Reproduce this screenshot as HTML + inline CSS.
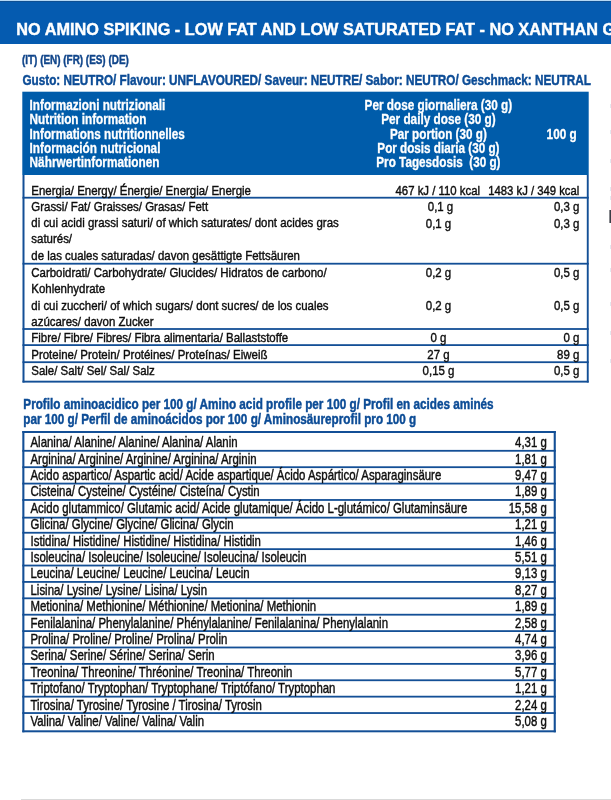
<!DOCTYPE html>
<html><head><meta charset="utf-8"><title>Nutrition</title>
<style>
html,body{margin:0;padding:0;background:#fff;}
body{width:611px;height:800px;position:relative;overflow:hidden;font-family:"Liberation Sans",sans-serif;}
#w{position:absolute;left:0;top:0;width:611px;height:800px;overflow:hidden;filter:blur(0.35px);}
.t{position:absolute;left:0;top:0;white-space:pre;line-height:normal;-webkit-text-stroke:0.25px currentColor;}
.r{position:absolute;}
</style></head><body><div id="w">
<svg width="611" height="800" viewBox="0 0 611 800" style="position:absolute;left:0;top:0">
<rect x="0" y="0" width="611" height="1" fill="#b5d8f5"/>
<rect x="0" y="1" width="611" height="43" fill="#055bb0"/>
<rect x="0" y="1" width="611" height="1" fill="#0e4f92"/>
<rect x="22.3" y="91.7" width="566.4" height="83.3" fill="#005caa"/>
<rect x="22.5" y="175" width="2" height="207.5" fill="#134f96"/>
<rect x="586.8" y="175" width="1.9" height="207.5" fill="#134f96"/>
<rect x="22.5" y="380.7" width="566.2" height="1.9" fill="#134f96"/>
<rect x="22.5" y="196.8" width="566.2" height="1.8" fill="#134f96"/>
<rect x="22.5" y="262.8" width="566.2" height="1.8" fill="#134f96"/>
<rect x="22.5" y="328.1" width="566.2" height="1.8" fill="#134f96"/>
<rect x="22.5" y="344.2" width="566.2" height="1.8" fill="#134f96"/>
<rect x="22.5" y="361.3" width="566.2" height="1.8" fill="#134f96"/>
<rect x="22.3" y="431" width="533.5" height="2" fill="#134f96"/>
<rect x="22.3" y="730.3" width="533.5" height="2" fill="#134f96"/>
<rect x="22.3" y="431" width="2.1" height="301.3" fill="#134f96"/>
<rect x="553.7" y="431" width="2.1" height="301.3" fill="#134f96"/>
<rect x="22.3" y="449.9" width="533.5" height="1.8" fill="#134f96"/>
<rect x="22.3" y="466.29" width="533.5" height="1.8" fill="#134f96"/>
<rect x="22.3" y="482.68" width="533.5" height="1.8" fill="#134f96"/>
<rect x="22.3" y="499.07" width="533.5" height="1.8" fill="#134f96"/>
<rect x="22.3" y="516.76" width="533.5" height="1.8" fill="#134f96"/>
<rect x="22.3" y="531.85" width="533.5" height="1.8" fill="#134f96"/>
<rect x="22.3" y="548.24" width="533.5" height="1.8" fill="#134f96"/>
<rect x="22.3" y="564.63" width="533.5" height="1.8" fill="#134f96"/>
<rect x="22.3" y="581.02" width="533.5" height="1.8" fill="#134f96"/>
<rect x="22.3" y="597.41" width="533.5" height="1.8" fill="#134f96"/>
<rect x="22.3" y="613.8" width="533.5" height="1.8" fill="#134f96"/>
<rect x="22.3" y="630.19" width="533.5" height="1.8" fill="#134f96"/>
<rect x="22.3" y="646.58" width="533.5" height="1.8" fill="#134f96"/>
<rect x="22.3" y="662.97" width="533.5" height="1.8" fill="#134f96"/>
<rect x="22.3" y="679.36" width="533.5" height="1.8" fill="#134f96"/>
<rect x="22.3" y="695.75" width="533.5" height="1.8" fill="#134f96"/>
<rect x="22.3" y="712.14" width="533.5" height="1.8" fill="#134f96"/>
<rect x="21" y="799" width="590" height="1" fill="#d9d9d9"/>
<rect x="610" y="104" width="1" height="4" fill="#e4e8ef"/>
<rect x="610" y="130" width="1" height="4" fill="#e4e8ef"/>
<rect x="610" y="159" width="1" height="4" fill="#e4e8ef"/>
<rect x="610" y="187" width="1" height="4" fill="#e4e8ef"/>
<rect x="610" y="196" width="1" height="4" fill="#e4e8ef"/>
<rect x="610" y="245" width="1" height="4" fill="#e4e8ef"/>
<rect x="610" y="268" width="1" height="4" fill="#e4e8ef"/>
<rect x="610" y="302" width="1" height="4" fill="#e4e8ef"/>
<rect x="610" y="331" width="1" height="4" fill="#e4e8ef"/>
<rect x="610" y="359" width="1" height="4" fill="#e4e8ef"/>
<rect x="609.4" y="210" width="1.6" height="13" fill="#3a3e46"/>
</svg>
<div class="t" style="font-size:16.6px;color:#ffffff;transform:translate(16.30px,19.73px) scaleX(0.9808);transform-origin:0 0;font-weight:700;-webkit-text-stroke-width:0.4px;">NO AMINO SPIKING - LOW FAT AND LOW SATURATED FAT - NO XANTHAN GUM</div>
<div class="t" style="font-size:13.0px;color:#10458a;transform:translate(22.00px,52.05px) scaleX(0.7624);transform-origin:0 0;font-weight:700;-webkit-text-stroke-width:0.45px;">(IT) (EN) (FR) (ES) (DE)</div>
<div class="t" style="font-size:14.3px;color:#0c4c96;transform:translate(22.50px,71.85px) scaleX(0.8200);transform-origin:0 0;font-weight:700;-webkit-text-stroke-width:0.45px;">Gusto: NEUTRO/ Flavour: UNFLAVOURED/ Saveur: NEUTRE/ Sabor: NEUTRO/ Geschmack: NEUTRAL</div>
<div class="t" style="font-size:14.0px;color:#fff;transform:translate(29.60px,97.13px) scaleX(0.8388);transform-origin:0 0;font-weight:700;-webkit-text-stroke-width:0.3px;">Informazioni nutrizionali</div>
<div class="t" style="font-size:14.0px;color:#fff;transform:translate(29.60px,111.13px) scaleX(0.8384);transform-origin:0 0;font-weight:700;-webkit-text-stroke-width:0.3px;">Nutrition information</div>
<div class="t" style="font-size:14.0px;color:#fff;transform:translate(29.60px,126.13px) scaleX(0.8389);transform-origin:0 0;font-weight:700;-webkit-text-stroke-width:0.3px;">Informations nutritionnelles</div>
<div class="t" style="font-size:14.0px;color:#fff;transform:translate(29.60px,140.13px) scaleX(0.8408);transform-origin:0 0;font-weight:700;-webkit-text-stroke-width:0.3px;">Información nutricional</div>
<div class="t" style="font-size:14.0px;color:#fff;transform:translate(29.60px,154.13px) scaleX(0.8428);transform-origin:0 0;font-weight:700;-webkit-text-stroke-width:0.3px;">Nährwertinformationen</div>
<div class="t" style="font-size:14.0px;color:#fff;transform:translate(350.48px,97.13px) scaleX(0.8394);transform-origin:50% 0;font-weight:700;-webkit-text-stroke-width:0.3px;">Per dose giornaliera (30 g)</div>
<div class="t" style="font-size:14.0px;color:#fff;transform:translate(370.32px,111.13px) scaleX(0.8409);transform-origin:50% 0;font-weight:700;-webkit-text-stroke-width:0.3px;">Per daily dose (30 g)</div>
<div class="t" style="font-size:14.0px;color:#fff;transform:translate(380.45px,126.13px) scaleX(0.8352);transform-origin:50% 0;font-weight:700;-webkit-text-stroke-width:0.3px;">Par portion (30 g)</div>
<div class="t" style="font-size:14.0px;color:#fff;transform:translate(365.27px,140.13px) scaleX(0.8348);transform-origin:50% 0;font-weight:700;-webkit-text-stroke-width:0.3px;">Por dosis diaria (30 g)</div>
<div class="t" style="font-size:14.0px;color:#fff;transform:translate(364.23px,154.13px) scaleX(0.8373);transform-origin:50% 0;font-weight:700;-webkit-text-stroke-width:0.3px;">Pro Tagesdosis&nbsp; (30 g)</div>
<div class="t" style="font-size:14.0px;color:#fff;transform:translate(540.80px,126.13px) scaleX(0.8380);transform-origin:100% 0;font-weight:700;-webkit-text-stroke-width:0.3px;">100 g</div>
<div class="t" style="font-size:13.5px;color:#0e0e0e;transform:translate(31.30px,182.59px) scaleX(0.8483);transform-origin:0 0;-webkit-text-stroke-width:0.42px;">Energia/ Energy/ Énergie/ Energia/ Energie</div>
<div class="t" style="font-size:13.5px;color:#0e0e0e;transform:translate(31.30px,198.59px) scaleX(0.8483);transform-origin:0 0;-webkit-text-stroke-width:0.42px;">Grassi/ Fat/ Graisses/ Grasas/ Fett</div>
<div class="t" style="font-size:13.5px;color:#0e0e0e;transform:translate(31.30px,214.59px) scaleX(0.8483);transform-origin:0 0;-webkit-text-stroke-width:0.42px;">di cui acidi grassi saturi/ of which saturates/ dont acides gras</div>
<div class="t" style="font-size:13.5px;color:#0e0e0e;transform:translate(31.30px,230.59px) scaleX(0.8483);transform-origin:0 0;-webkit-text-stroke-width:0.42px;">saturés/</div>
<div class="t" style="font-size:13.5px;color:#0e0e0e;transform:translate(31.30px,247.59px) scaleX(0.8483);transform-origin:0 0;-webkit-text-stroke-width:0.42px;">de las cuales saturadas/ davon gesättigte Fettsäuren</div>
<div class="t" style="font-size:13.5px;color:#0e0e0e;transform:translate(31.30px,264.59px) scaleX(0.8483);transform-origin:0 0;-webkit-text-stroke-width:0.42px;">Carboidrati/ Carbohydrate/ Glucides/ Hidratos de carbono/</div>
<div class="t" style="font-size:13.5px;color:#0e0e0e;transform:translate(31.30px,280.59px) scaleX(0.8483);transform-origin:0 0;-webkit-text-stroke-width:0.42px;">Kohlenhydrate</div>
<div class="t" style="font-size:13.5px;color:#0e0e0e;transform:translate(31.30px,297.59px) scaleX(0.8483);transform-origin:0 0;-webkit-text-stroke-width:0.42px;">di cui zuccheri/ of which sugars/ dont sucres/ de los cuales</div>
<div class="t" style="font-size:13.5px;color:#0e0e0e;transform:translate(31.30px,313.59px) scaleX(0.8483);transform-origin:0 0;-webkit-text-stroke-width:0.42px;">azúcares/ davon Zucker</div>
<div class="t" style="font-size:13.5px;color:#0e0e0e;transform:translate(31.30px,329.59px) scaleX(0.8483);transform-origin:0 0;-webkit-text-stroke-width:0.42px;">Fibre/ Fibre/ Fibres/ Fibra alimentaria/ Ballaststoffe</div>
<div class="t" style="font-size:13.5px;color:#0e0e0e;transform:translate(31.30px,346.59px) scaleX(0.8483);transform-origin:0 0;-webkit-text-stroke-width:0.42px;">Proteine/ Protein/ Protéines/ Proteínas/ Eiweiß</div>
<div class="t" style="font-size:13.5px;color:#0e0e0e;transform:translate(31.30px,362.59px) scaleX(0.8483);transform-origin:0 0;-webkit-text-stroke-width:0.42px;">Sale/ Salt/ Sel/ Sal/ Salz</div>
<div class="t" style="font-size:13.5px;color:#0e0e0e;transform:translate(379.79px,182.59px) scaleX(0.8434);transform-origin:100% 0;-webkit-text-stroke-width:0.42px;">467 kJ / 110 kcal</div>
<div class="t" style="font-size:13.5px;color:#0e0e0e;transform:translate(470.48px,182.59px) scaleX(0.8372);transform-origin:100% 0;-webkit-text-stroke-width:0.42px;">1483 kJ / 349 kcal</div>
<div class="t" style="font-size:13.5px;color:#0e0e0e;transform:translate(425.49px,198.59px) scaleX(0.8483);transform-origin:50% 0;-webkit-text-stroke-width:0.42px;">0,1 g</div>
<div class="t" style="font-size:13.5px;color:#0e0e0e;transform:translate(549.37px,198.59px) scaleX(0.8483);transform-origin:100% 0;-webkit-text-stroke-width:0.42px;">0,3 g</div>
<div class="t" style="font-size:13.5px;color:#0e0e0e;transform:translate(423.49px,215.59px) scaleX(0.8483);transform-origin:50% 0;-webkit-text-stroke-width:0.42px;">0,1 g</div>
<div class="t" style="font-size:13.5px;color:#0e0e0e;transform:translate(549.37px,215.59px) scaleX(0.8483);transform-origin:100% 0;-webkit-text-stroke-width:0.42px;">0,3 g</div>
<div class="t" style="font-size:13.5px;color:#0e0e0e;transform:translate(423.49px,264.59px) scaleX(0.8483);transform-origin:50% 0;-webkit-text-stroke-width:0.42px;">0,2 g</div>
<div class="t" style="font-size:13.5px;color:#0e0e0e;transform:translate(549.37px,264.59px) scaleX(0.8483);transform-origin:100% 0;-webkit-text-stroke-width:0.42px;">0,5 g</div>
<div class="t" style="font-size:13.5px;color:#0e0e0e;transform:translate(423.49px,297.59px) scaleX(0.8483);transform-origin:50% 0;-webkit-text-stroke-width:0.42px;">0,2 g</div>
<div class="t" style="font-size:13.5px;color:#0e0e0e;transform:translate(549.37px,297.59px) scaleX(0.8483);transform-origin:100% 0;-webkit-text-stroke-width:0.42px;">0,5 g</div>
<div class="t" style="font-size:13.5px;color:#0e0e0e;transform:translate(429.12px,329.59px) scaleX(0.8483);transform-origin:50% 0;-webkit-text-stroke-width:0.42px;">0 g</div>
<div class="t" style="font-size:13.5px;color:#0e0e0e;transform:translate(560.63px,329.59px) scaleX(0.8483);transform-origin:100% 0;-webkit-text-stroke-width:0.42px;">0 g</div>
<div class="t" style="font-size:13.5px;color:#0e0e0e;transform:translate(425.36px,346.59px) scaleX(0.8483);transform-origin:50% 0;-webkit-text-stroke-width:0.42px;">27 g</div>
<div class="t" style="font-size:13.5px;color:#0e0e0e;transform:translate(553.13px,346.59px) scaleX(0.8483);transform-origin:100% 0;-webkit-text-stroke-width:0.42px;">89 g</div>
<div class="t" style="font-size:13.5px;color:#0e0e0e;transform:translate(419.73px,362.59px) scaleX(0.8483);transform-origin:50% 0;-webkit-text-stroke-width:0.42px;">0,15 g</div>
<div class="t" style="font-size:13.5px;color:#0e0e0e;transform:translate(549.37px,362.59px) scaleX(0.8483);transform-origin:100% 0;-webkit-text-stroke-width:0.42px;">0,5 g</div>
<div class="t" style="font-size:14.3px;color:#0c4c96;transform:translate(23.30px,395.85px) scaleX(0.8207);transform-origin:0 0;font-weight:700;-webkit-text-stroke-width:0.45px;">Profilo aminoacidico per 100 g/ Amino acid profile per 100 g/ Profil en acides aminés</div>
<div class="t" style="font-size:14.3px;color:#0c4c96;transform:translate(23.30px,410.85px) scaleX(0.8198);transform-origin:0 0;font-weight:700;-webkit-text-stroke-width:0.45px;">par 100 g/ Perfil de aminoácidos por 100 g/ Aminosäureprofil pro 100 g</div>
<div class="t" style="font-size:14.1px;color:#0e0e0e;transform:translate(30.50px,434.03px) scaleX(0.8104);transform-origin:0 0;-webkit-text-stroke-width:0.42px;">Alanina/ Alanine/ Alanine/ Alanina/ Alanin</div>
<div class="t" style="font-size:14.1px;color:#0e0e0e;transform:translate(507.62px,434.03px) scaleX(0.8104);transform-origin:100% 0;-webkit-text-stroke-width:0.42px;">4,31 g</div>
<div class="t" style="font-size:14.1px;color:#0e0e0e;transform:translate(30.50px,451.03px) scaleX(0.8104);transform-origin:0 0;-webkit-text-stroke-width:0.42px;">Arginina/ Arginine/ Arginine/ Arginina/ Arginin</div>
<div class="t" style="font-size:14.1px;color:#0e0e0e;transform:translate(507.62px,451.03px) scaleX(0.8104);transform-origin:100% 0;-webkit-text-stroke-width:0.42px;">1,81 g</div>
<div class="t" style="font-size:14.1px;color:#0e0e0e;transform:translate(30.50px,467.03px) scaleX(0.8104);transform-origin:0 0;-webkit-text-stroke-width:0.42px;">Acido aspartico/ Aspartic acid/ Acide aspartique/ Ácido Aspártico/ Asparaginsäure</div>
<div class="t" style="font-size:14.1px;color:#0e0e0e;transform:translate(507.62px,467.03px) scaleX(0.8104);transform-origin:100% 0;-webkit-text-stroke-width:0.42px;">9,47 g</div>
<div class="t" style="font-size:14.1px;color:#0e0e0e;transform:translate(30.50px,483.03px) scaleX(0.8104);transform-origin:0 0;-webkit-text-stroke-width:0.42px;">Cisteina/ Cysteine/ Cystéine/ Cisteína/ Cystin</div>
<div class="t" style="font-size:14.1px;color:#0e0e0e;transform:translate(507.62px,483.03px) scaleX(0.8104);transform-origin:100% 0;-webkit-text-stroke-width:0.42px;">1,89 g</div>
<div class="t" style="font-size:14.1px;color:#0e0e0e;transform:translate(30.50px,500.03px) scaleX(0.8104);transform-origin:0 0;-webkit-text-stroke-width:0.42px;">Acido glutammico/ Glutamic acid/ Acide glutamique/ Ácido L-glutámico/ Glutaminsäure</div>
<div class="t" style="font-size:14.1px;color:#0e0e0e;transform:translate(499.78px,500.03px) scaleX(0.8104);transform-origin:100% 0;-webkit-text-stroke-width:0.42px;">15,58 g</div>
<div class="t" style="font-size:14.1px;color:#0e0e0e;transform:translate(30.50px,516.03px) scaleX(0.8104);transform-origin:0 0;-webkit-text-stroke-width:0.42px;">Glicina/ Glycine/ Glycine/ Glicina/ Glycin</div>
<div class="t" style="font-size:14.1px;color:#0e0e0e;transform:translate(507.62px,516.03px) scaleX(0.8104);transform-origin:100% 0;-webkit-text-stroke-width:0.42px;">1,21 g</div>
<div class="t" style="font-size:14.1px;color:#0e0e0e;transform:translate(30.50px,533.03px) scaleX(0.8104);transform-origin:0 0;-webkit-text-stroke-width:0.42px;">Istidina/ Histidine/ Histidine/ Histidina/ Histidin</div>
<div class="t" style="font-size:14.1px;color:#0e0e0e;transform:translate(507.62px,533.03px) scaleX(0.8104);transform-origin:100% 0;-webkit-text-stroke-width:0.42px;">1,46 g</div>
<div class="t" style="font-size:14.1px;color:#0e0e0e;transform:translate(30.50px,549.03px) scaleX(0.8104);transform-origin:0 0;-webkit-text-stroke-width:0.42px;">Isoleucina/ Isoleucine/ Isoleucine/ Isoleucina/ Isoleucin</div>
<div class="t" style="font-size:14.1px;color:#0e0e0e;transform:translate(507.62px,549.03px) scaleX(0.8104);transform-origin:100% 0;-webkit-text-stroke-width:0.42px;">5,51 g</div>
<div class="t" style="font-size:14.1px;color:#0e0e0e;transform:translate(30.50px,565.03px) scaleX(0.8104);transform-origin:0 0;-webkit-text-stroke-width:0.42px;">Leucina/ Leucine/ Leucine/ Leucina/ Leucin</div>
<div class="t" style="font-size:14.1px;color:#0e0e0e;transform:translate(507.62px,565.03px) scaleX(0.8104);transform-origin:100% 0;-webkit-text-stroke-width:0.42px;">9,13 g</div>
<div class="t" style="font-size:14.1px;color:#0e0e0e;transform:translate(30.50px,582.03px) scaleX(0.8104);transform-origin:0 0;-webkit-text-stroke-width:0.42px;">Lisina/ Lysine/ Lysine/ Lisina/ Lysin</div>
<div class="t" style="font-size:14.1px;color:#0e0e0e;transform:translate(507.62px,582.03px) scaleX(0.8104);transform-origin:100% 0;-webkit-text-stroke-width:0.42px;">8,27 g</div>
<div class="t" style="font-size:14.1px;color:#0e0e0e;transform:translate(30.50px,598.03px) scaleX(0.8104);transform-origin:0 0;-webkit-text-stroke-width:0.42px;">Metionina/ Methionine/ Méthionine/ Metionina/ Methionin</div>
<div class="t" style="font-size:14.1px;color:#0e0e0e;transform:translate(507.62px,598.03px) scaleX(0.8104);transform-origin:100% 0;-webkit-text-stroke-width:0.42px;">1,89 g</div>
<div class="t" style="font-size:14.1px;color:#0e0e0e;transform:translate(30.50px,615.03px) scaleX(0.8104);transform-origin:0 0;-webkit-text-stroke-width:0.42px;">Fenilalanina/ Phenylalanine/ Phénylalanine/ Fenilalanina/ Phenylalanin</div>
<div class="t" style="font-size:14.1px;color:#0e0e0e;transform:translate(507.62px,615.03px) scaleX(0.8104);transform-origin:100% 0;-webkit-text-stroke-width:0.42px;">2,58 g</div>
<div class="t" style="font-size:14.1px;color:#0e0e0e;transform:translate(30.50px,631.03px) scaleX(0.8104);transform-origin:0 0;-webkit-text-stroke-width:0.42px;">Prolina/ Proline/ Proline/ Prolina/ Prolin</div>
<div class="t" style="font-size:14.1px;color:#0e0e0e;transform:translate(507.62px,631.03px) scaleX(0.8104);transform-origin:100% 0;-webkit-text-stroke-width:0.42px;">4,74 g</div>
<div class="t" style="font-size:14.1px;color:#0e0e0e;transform:translate(30.50px,647.03px) scaleX(0.8104);transform-origin:0 0;-webkit-text-stroke-width:0.42px;">Serina/ Serine/ Sérine/ Serina/ Serin</div>
<div class="t" style="font-size:14.1px;color:#0e0e0e;transform:translate(507.62px,647.03px) scaleX(0.8104);transform-origin:100% 0;-webkit-text-stroke-width:0.42px;">3,96 g</div>
<div class="t" style="font-size:14.1px;color:#0e0e0e;transform:translate(30.50px,664.03px) scaleX(0.8104);transform-origin:0 0;-webkit-text-stroke-width:0.42px;">Treonina/ Threonine/ Thréonine/ Treonina/ Threonin</div>
<div class="t" style="font-size:14.1px;color:#0e0e0e;transform:translate(507.62px,664.03px) scaleX(0.8104);transform-origin:100% 0;-webkit-text-stroke-width:0.42px;">5,77 g</div>
<div class="t" style="font-size:14.1px;color:#0e0e0e;transform:translate(30.50px,680.03px) scaleX(0.8104);transform-origin:0 0;-webkit-text-stroke-width:0.42px;">Triptofano/ Tryptophan/ Tryptophane/ Triptófano/ Tryptophan</div>
<div class="t" style="font-size:14.1px;color:#0e0e0e;transform:translate(507.62px,680.03px) scaleX(0.8104);transform-origin:100% 0;-webkit-text-stroke-width:0.42px;">1,21 g</div>
<div class="t" style="font-size:14.1px;color:#0e0e0e;transform:translate(30.50px,697.03px) scaleX(0.8104);transform-origin:0 0;-webkit-text-stroke-width:0.42px;">Tirosina/ Tyrosine/ Tyrosine / Tirosina/ Tyrosin</div>
<div class="t" style="font-size:14.1px;color:#0e0e0e;transform:translate(507.62px,697.03px) scaleX(0.8104);transform-origin:100% 0;-webkit-text-stroke-width:0.42px;">2,24 g</div>
<div class="t" style="font-size:14.1px;color:#0e0e0e;transform:translate(30.50px,713.03px) scaleX(0.8104);transform-origin:0 0;-webkit-text-stroke-width:0.42px;">Valina/ Valine/ Valine/ Valina/ Valin</div>
<div class="t" style="font-size:14.1px;color:#0e0e0e;transform:translate(507.62px,713.03px) scaleX(0.8104);transform-origin:100% 0;-webkit-text-stroke-width:0.42px;">5,08 g</div>
</div></body></html>
